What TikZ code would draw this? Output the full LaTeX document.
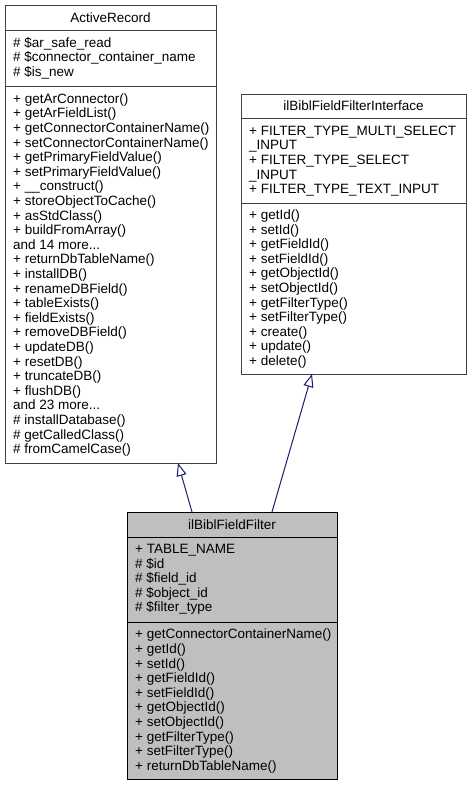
\documentclass[tikz,border=0pt]{standalone}
\usepackage{fontspec}
\setmainfont{Liberation Sans}
\usetikzlibrary{calc,arrows.meta}
\definecolor{edgeblue}{HTML}{191970}
\definecolor{boxgray}{HTML}{404040}
\definecolor{focusfill}{HTML}{BFBFBF}
\newcommand\rowfont{\fontsize{13.5}{14.6}\selectfont}
\newcommand\threedots{...}
\newcommand\rowsat[4]{%
  \foreach \t [count=\i from 0] in {#4} {\node[row] (#1\i) at (#2, #3+\i*14.6+4.5) {\t};}}
\begin{document}
\begin{tikzpicture}[x=1pt,y=-1pt,
  row/.style={anchor=base west, inner sep=0pt, font=\rowfont},
  title/.style={anchor=base, inner sep=0pt, font=\rowfont},
  classbox/.style={draw=boxgray, line width=1pt, fill=white, outer sep=0pt, inner sep=0pt, anchor=north west},
  focusbox/.style={classbox, draw=black, fill=focusfill},
  sep/.style={line width=1pt},
  inh/.style={draw=edgeblue, line width=1pt, -{Triangle[open, length=13pt, width=10pt]}}]
\useasboundingbox (0,0) rectangle (474,785);
% ActiveRecord
\node[classbox, minimum width=211pt, minimum height=458pt] (AR) at (5,5) {};
\draw[sep, boxgray] ($(AR.north west)+(0,25)$) -- ($(AR.north east)+(0,25)$);
\draw[sep, boxgray] ($(AR.north west)+(0,81)$) -- ($(AR.north east)+(0,81)$);
\node[title] (ARt) at (110.5,22) {ActiveRecord};
\rowsat{ARa}{13}{42.5}{\# \$ar\_safe\_read, \# \$connector\_container\_name, \# \$is\_new}
\rowsat{ARm}{13}{98.8}{+ getArConnector(), + getArFieldList(), + getConnectorContainerName(), + setConnectorContainerName(), + getPrimaryFieldValue(), + setPrimaryFieldValue(), + \_\_construct(), + storeObjectToCache(), + asStdClass(), + buildFromArray(), and 14 more\threedots, + returnDbTableName(), + installDB(), + renameDBField(), + tableExists(), + fieldExists(), + removeDBField(), + updateDB(), + resetDB(), + truncateDB(), + flushDB(), and 23 more\threedots, \# installDatabase(), \# getCalledClass(), \# fromCamelCase()}
% Interface
\node[classbox, minimum width=225pt, minimum height=280pt] (IF) at (241,94) {};
\draw[sep, boxgray] ($(IF.north west)+(0,24.5)$) -- ($(IF.north east)+(0,24.5)$);
\draw[sep, boxgray] ($(IF.north west)+(0,109)$) -- ($(IF.north east)+(0,109)$);
\node[title] (IFt) at (353.5,110.75) {ilBiblFieldFilterInterface};
\rowsat{IFa}{249}{130.8}{+ FILTER\_TYPE\_MULTI\_SELECT, \_INPUT, + FILTER\_TYPE\_SELECT, \_INPUT, + FILTER\_TYPE\_TEXT\_INPUT}
\rowsat{IFm}{249}{215}{+ getId(), + setId(), + getFieldId(), + setFieldId(), + getObjectId(), + setObjectId(), + getFilterType(), + setFilterType(), + create(), + update(), + delete()}
% ilBiblFieldFilter
\node[focusbox, minimum width=210pt, minimum height=267pt] (CH) at (127,512) {};
\draw[sep] ($(CH.north west)+(0,25)$) -- ($(CH.north east)+(0,25)$);
\draw[sep] ($(CH.north west)+(0,110)$) -- ($(CH.north east)+(0,110)$);
\node[title] (CHt) at (232,529) {ilBiblFieldFilter};
\rowsat{CHa}{135}{549}{+ TABLE\_NAME, \# \$id, \# \$field\_id, \# \$object\_id, \# \$filter\_type}
\rowsat{CHm}{135}{634.3}{+ getConnectorContainerName(), + getId(), + setId(), + getFieldId(), + setFieldId(), + getObjectId(), + setObjectId(), + getFilterType(), + setFilterType(), + returnDbTableName()}
% inheritance
\draw[inh] ($(CH.north west)+(65,0)$) -- ($(AR.south west)+(173,0)$);
\draw[inh] ($(CH.north west)+(145,0)$) -- ($(IF.south west)+(71,0)$);
\end{tikzpicture}
\end{document}
